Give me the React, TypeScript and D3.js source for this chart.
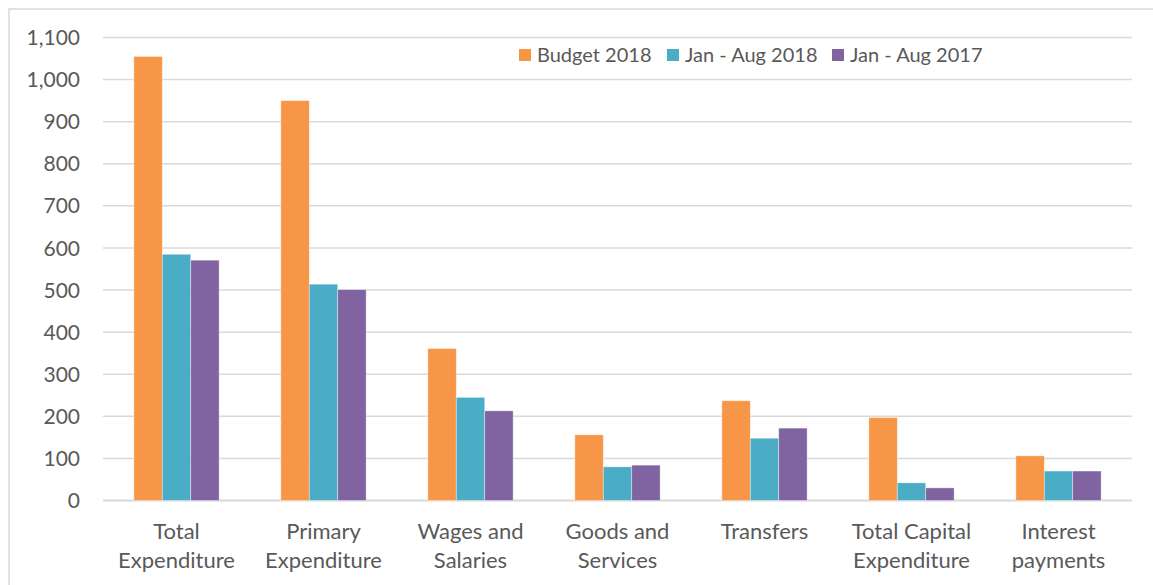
import React from 'react';
import * as d3 from 'd3';

const categories = [
  ['Total', 'Expenditure'],
  ['Primary', 'Expenditure'],
  ['Wages and', 'Salaries'],
  ['Goods and', 'Services'],
  ['Transfers'],
  ['Total Capital', 'Expenditure'],
  ['Interest', 'payments'],
];
const seriesNames = ['Budget 2018', 'Jan - Aug 2018', 'Jan - Aug 2017'];
const budget2018 = [1055, 950, 361, 156, 237, 197, 106];
const janAug2018 = [585, 514, 245, 80, 148, 42, 70];
const janAug2017 = [571, 501, 213, 84, 172, 30, 70];
const yTicks = [0, 100, 200, 300, 400, 500, 600, 700, 800, 900, 1000, 1100];

const colors = ['#F79646', '#4BACC6', '#8064A2'];
const width = 1153;
const height = 585;
const font = 'Lato, "Open Sans", sans-serif';

const App = () => {
  const series = [budget2018, janAug2018, janAug2017];
  const keys = categories.map((c) => c.join(' '));

  const x = d3.scaleBand()
    .domain(keys)
    .range([103, 1132])
    .paddingInner(0.42)
    .paddingOuter(0.21);
  const x1 = d3.scaleBand()
    .domain(seriesNames)
    .range([0, x.bandwidth()]);
  const y = d3.scaleLinear()
    .domain([0, 1100])
    .range([500.5, 37.5]);
  const fmt = d3.format(',');

  // legend positions
  const legendX = [519, 667, 832];

  return (
    <svg width={width} height={height} style={{ position: 'absolute', left: 0, top: 0, background: '#fff' }}>
      <rect x={9} y={9} width={width + 20} height={height + 20} fill="#fff" stroke="#D9D9D9" strokeWidth={1.5} />
      {yTicks.map((t) => (
        <g key={t}>
          <line x1={103} x2={1132} y1={y(t)} y2={y(t)} stroke="#D9D9D9" strokeWidth={t === 0 ? 2 : 1.5} />
          <text x={80} y={y(t)} dy="0.36em" textAnchor="end" fontFamily={font} fontSize={21} fill="#595959">
            {fmt(t)}
          </text>
        </g>
      ))}
      {series.map((vals, si) => (
        <g key={si}>
          {vals.map((v, i) => (
            <rect
              key={i}
              x={(x(keys[i]) as number) + (x1(seriesNames[si]) as number)}
              y={y(v)}
              width={x1.bandwidth()}
              height={y(0) - y(v)}
              fill={colors[si]}
              stroke="rgba(255,255,255,0.5)"
              strokeWidth={0.75}
            />
          ))}
        </g>
      ))}
      {categories.map((lines, i) => (
        <text
          key={i}
          x={(x(keys[i]) as number) + x.bandwidth() / 2}
          y={539}
          textAnchor="middle"
          fontFamily={font}
          fontSize={22}
          fill="#595959"
        >
          {lines.map((l, j) => (
            <tspan key={j} x={(x(keys[i]) as number) + x.bandwidth() / 2} dy={j === 0 ? 0 : 29}>
              {l}
            </tspan>
          ))}
        </text>
      ))}
      {seriesNames.map((s, i) => (
        <g key={s}>
          <rect x={legendX[i]} y={49} width={12} height={12} fill={colors[i]} />
          <text x={legendX[i] + 18} y={55} dy="0.36em" fontFamily={font} fontSize={20} fill="#595959">
            {s}
          </text>
        </g>
      ))}
    </svg>
  );
};

export default App;
